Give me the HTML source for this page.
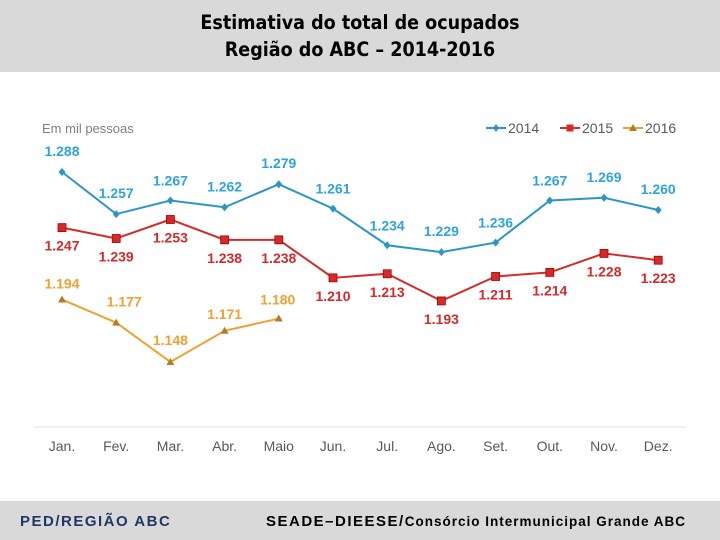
<!DOCTYPE html>
<html><head><meta charset="utf-8"><style>
body{margin:0;width:720px;height:540px;overflow:hidden;background:#fff;font-family:"Liberation Sans",sans-serif}
#hdr{position:absolute;left:0;top:0;width:720px;height:72px;background:#d9d9d9;text-align:center;font-family:"DejaVu Sans Condensed","Liberation Sans",sans-serif;font-weight:bold;font-size:19.5px;line-height:27px;padding-top:9px;box-sizing:border-box;color:#000}
#ftr{position:absolute;left:0;top:501px;width:720px;height:39px;background:#d9d9d9}
#ftr span{position:absolute;top:12px;font-weight:bold;font-size:15px;letter-spacing:1.5px}
svg{position:absolute;left:0;top:0}
</style></head><body>
<div id="hdr">Estimativa do total de ocupados<br>Região do ABC – 2014-2016</div>
<div id="ftr">
<span style="left:20px;color:#1f3864">PED/REGIÃO ABC</span>
<span style="left:266px;color:#000">SEADE–DIEESE/<span style="position:static;font-size:13.5px;letter-spacing:1px">Consórcio Intermunicipal Grande ABC</span></span>
</div>
<svg id="chart" width="720" height="540"></svg>
<script>
const months=["Jan.","Fev.","Mar.","Abr.","Maio","Jun.","Jul.","Ago.","Set.","Out.","Nov.","Dez."];
const s2014=[1288,1257,1267,1262,1279,1261,1234,1229,1236,1267,1269,1260];
const s2015=[1247,1239,1253,1238,1238,1210,1213,1193,1211,1214,1228,1223];
const s2016=[1194,1177,1148,1171,1180];
const lbl2014=["1.288","1.257","1.267","1.262","1.279","1.261","1.234","1.229","1.236","1.267","1.269","1.260"];
const lbl2015=["1.247","1.239","1.253","1.238","1.238","1.210","1.213","1.193","1.211","1.214","1.228","1.223"];
const lbl2016=["1.194","1.177","1.148","1.171","1.180"];
const off2014=[[0,-16],[0,-16],[0,-15],[0,-16],[0,-16],[0,-15],[0,-15],[0,-16],[0,-15],[0,-15],[0,-16],[0,-16]];
const off2015=[[0,18],[0,18],[0,18],[0,18],[0,18],[0,18],[0,18],[0,18],[0,18],[0,18],[0,18],[0,18]];
const off2016=[[0,-11],[8,-16],[0,-17],[0,-12],[-1,-14]];
const svg=document.getElementById('chart');
const NS='http://www.w3.org/2000/svg';
function x(i){return 62+i*54.2;}
function y(v){return 172+(1288-v)*1.357;}
function mk(t,a){const e=document.createElementNS(NS,t);for(const k in a)e.setAttribute(k,a[k]);svg.appendChild(e);return e;}
const ax=mk('line',{x1:34,x2:686,y1:427,y2:427,stroke:'#e0e0e0','stroke-width':1});


months.forEach((m,i)=>{const t=mk('text',{x:x(i),y:451,'text-anchor':'middle','font-size':14,fill:'#595959'});t.textContent=m;

});
const u=mk('text',{x:42,y:133,'font-size':13,fill:'#7f7f7f'});u.textContent='Em mil pessoas';


function series(vals,lbls,offs,col,lcol,marker,name){
 const p=mk('polyline',{points:vals.map((v,i)=>x(i)+','+y(v)).join(' '),fill:'none',stroke:col,'stroke-width':2});
 
 
 vals.forEach((v,i)=>{
  let m;const cx=x(i),cy=y(v);
  if(marker==='d')m=mk('polygon',{points:`${cx},${cy-4} ${cx+3.5},${cy} ${cx},${cy+4} ${cx-3.5},${cy}`,fill:col});
  else if(marker==='s')m=mk('rect',{x:cx-4,y:cy-4,width:8,height:8,fill:col,stroke:'#a00','stroke-width':0.8});
  else m=mk('polygon',{points:`${cx},${cy-4} ${cx+4},${cy+3} ${cx-4},${cy+3}`,fill:'#b87a20'});
  
  
  const t=mk('text',{x:cx+offs[i][0],y:cy+offs[i][1]+(offs[i][1]>0?5:0),'text-anchor':'middle','font-size':14,'font-weight':'bold',fill:lcol});
  t.textContent=lbls[i];
  
  
 });
}
series(s2014,lbl2014,off2014,'#2b95c8','#2ea3dc','d','2014');
series(s2015,lbl2015,off2015,'#d42a2a','#d42a2a','s','2015');
series(s2016,lbl2016,off2016,'#f0a030','#f0a030','t','2016');
const leg=[['2014','#2b95c8','d',486],['2015','#d42a2a','s',560],['2016','#f0a030','t',623]];
leg.forEach(l=>{
 const g=mk('line',{x1:l[3],x2:l[3]+20,y1:128,y2:128,stroke:l[1],'stroke-width':2});
 
 
 const cx=l[3]+10;
 let m;
 if(l[2]==='d')m=mk('polygon',{points:`${cx},124 ${cx+3},128 ${cx},132 ${cx-3},128`,fill:l[1]});
 else if(l[2]==='s')m=mk('rect',{x:cx-3.5,y:124.5,width:7,height:7,fill:l[1]});
 else m=mk('polygon',{points:`${cx},124 ${cx+4},131 ${cx-4},131`,fill:'#b87a20'});
 
 
 const t=mk('text',{x:l[3]+22,y:133,'font-size':14,fill:'#595959'});t.textContent=l[0];
 
 
});
</script>
</body></html>
